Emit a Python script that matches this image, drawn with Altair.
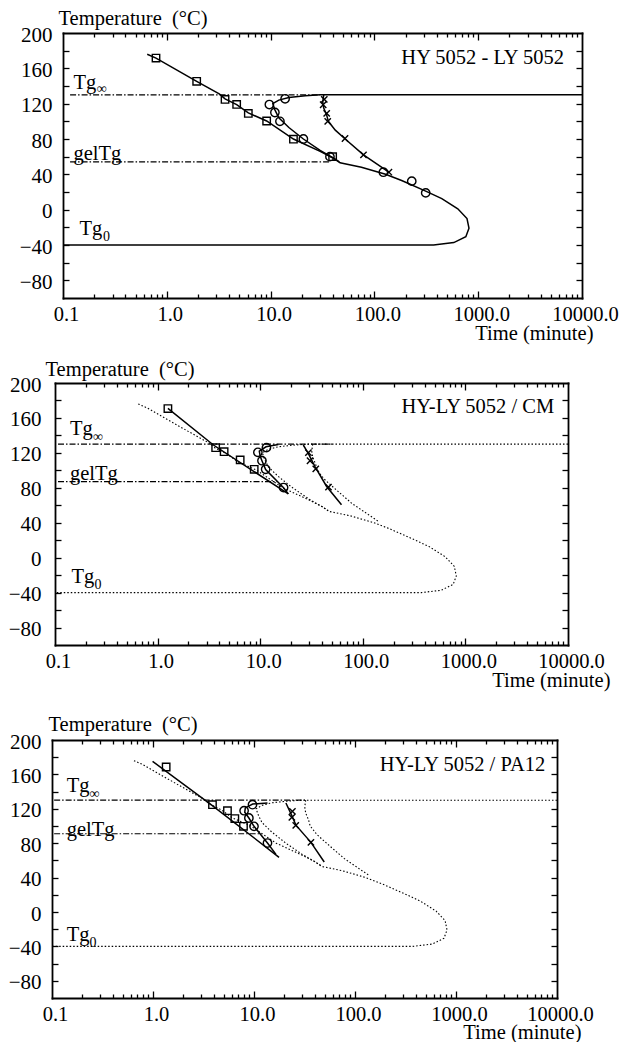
import altair as alt
import pandas as pd

FONT = "Liberation Serif, Times New Roman, serif"

# ---------------- Panel 1 : HY 5052 - LY 5052 ----------------
p1_main_t = [0.648, 0.787, 1.94, 3.2, 3.64, 4.71, 6.1, 9.16, 16.6, 30, 40, 46.7, 75, 128, 183, 312, 446, 636, 780, 815, 760, 582, 372, 0.1]
p1_main_T = [176, 171.6, 145.3, 131, 125.5, 119, 109.5, 100.4, 80, 66, 58.5, 53, 48, 40, 33, 21, 12.5, 1, -10, -21, -30.6, -37.3, -40, -40]
p1_circ_t = [10000, 30, 21.6, 15, 12, 10.5, 11, 12, 15, 20.7, 30, 40, 46]
p1_circ_T = [130, 130, 129, 127, 124, 120, 113, 104, 93, 80, 67, 58.5, 54]
p1_cross_t = [32.5, 31.8, 32.5, 34.7, 36, 42, 52.3, 78.5, 140]
p1_cross_T = [130, 122, 115, 107, 100, 90, 80, 62, 42]
p1_sq_t = [0.787, 1.94, 3.64, 4.71, 6.1, 9.16, 16.6, 39.6]
p1_sq_T = [171.6, 145.3, 124.8, 119.1, 109, 100.4, 79.8, 60]
p1_ci_t = [9.73, 13.8, 11.0, 12.3, 20.7, 37.3, 122, 229, 312]
p1_ci_T = [119, 125.5, 110, 100, 80, 60, 42.4, 32.3, 19]
p1_x_t = [32.9, 32.1, 34.7, 35.5, 52.1, 78.5, 138]
p1_x_T = [124.8, 118.8, 109, 100, 80.6, 62, 42.4]
p1_tginf = [0.117, 30]
p1_gel = [0.117, 37]
p1_gel_T = 54

# ---------------- Panel 2 : HY-LY 5052 / CM ----------------
p2_sqline_t = [1.26, 3.5, 18.8]
p2_sqline_T = [171, 129, 73]
p2_ciline_t = [15, 11.4, 9.8, 10, 10.4, 11.3, 16.9, 18.8]
p2_ciline_T = [129.5, 127, 122, 116, 111, 101, 80, 73]
p2_xline_t = [26.3, 29.4, 34.2, 44.4, 62]
p2_xline_T = [129, 119.4, 104.3, 81.5, 60.6]
p2_sq_t = [1.26, 3.68, 4.45, 6.38, 8.74]
p2_sq_T = [170.7, 125.9, 121.4, 111.9, 101.2]
p2_ci_t = [9.49, 11.5, 10.4, 11.3, 16.9]
p2_ci_T = [120.6, 126, 111, 101.2, 80.3]
p2_x_t = [29.5, 30.6, 34.8, 46.3]
p2_x_T = [120.2, 111, 101.6, 80.7]
p2_tginf = [0.107, 50]
p2_gel = [0.107, 14.6]
p2_gel_T = 87

# ---------------- Panel 3 : HY-LY 5052 / PA12 ----------------
p3_sqline_t = [0.99, 3.9, 17.7]
p3_sqline_T = [175.2, 123.5, 63.6]
p3_ciline_t = [13.6, 9.7, 8.2, 8.1, 8.9, 10, 13.6, 16.5]
p3_ciline_T = [126.7, 125.5, 121, 116, 109.3, 99.6, 80.2, 67]
p3_xline_t = [20.7, 23.5, 26, 36.6, 49.6]
p3_xline_T = [126.7, 113, 101, 81, 58.1]
p3_sq_t = [1.35, 3.88, 5.46, 6.46, 7.87]
p3_sq_T = [168.6, 124.8, 117.8, 108.6, 99.6]
p3_ci_t = [7.98, 9.66, 8.9, 10.0, 13.6]
p3_ci_T = [117.8, 124.8, 109.3, 99.6, 80.2]
p3_x_t = [24, 23.7, 25.9, 36.6]
p3_x_T = [117.1, 110.1, 100.8, 81]
p3_tginf = [0.105, 32]
p3_gel = [0.105, 11.4]
p3_gel_T = 91

TG_INF = 130

# label anchors (time, temperature) for the in-plot labels
titles = ["HY 5052 - LY 5052", "HY-LY 5052 / CM", "HY-LY 5052 / PA12"]
title_pos = [(6714, 171.9), (7330, 172.6), (7650, 171.3)]
lab_main = [
    [(0.126, 143.9, "Tg"), (0.126, 63, "gelTg"), (0.144, -22, "Tg")],
    [(0.14, 146.8, "Tg"), (0.14, 95.5, "gelTg"), (0.145, -22, "Tg")],
    [(0.14, 146.2, "Tg"), (0.14, 95.7, "gelTg"), (0.14, -27, "Tg")],
]
lab_sub = [
    [(0.212, 137, "∞"), (0.243, -31, "0")],
    [(0.235, 138.5, "∞"), (0.243, -31.7, "0")],
    [(0.235, 137.2, "∞"), (0.235, -36, "0")],
]

x_labels = [0.1, 1, 10, 100, 1000, 10000]
x_major = [1, 10, 100, 1000]
x_minor = [k * 10.0 ** d for d in range(-1, 4) for k in range(2, 10)]
y_labels = [-80, -40, 0, 40, 80, 120, 160, 200]
y_ticks = list(range(-80, 200, 20))

W = 532  # common group width; each panel's frame sits inside it


def curves(items):
    rows = []
    for name, ts, Ts in items:
        for i, (t, T) in enumerate(zip(ts, Ts)):
            rows.append({"curve": name, "t": t, "T": T, "order": i})
    return pd.DataFrame(rows)


def pts(ts, Ts):
    return pd.DataFrame({"t": ts, "T": Ts})


def make_panel(L, w, h, solid, dotted, dashdot, sq, ci, cr, idx, ypad, ytx, yty, xtx, xty):
    xs = alt.Scale(type="log", domain=[0.1, 10000], range=[L, L + w], nice=False)
    ys = alt.Scale(domain=[-100, 200], nice=False, zero=False)
    frame = dict(domain=True, domainColor="black", domainWidth=1.8, domainCap="square")

    def inner_x(orient, vals, size, dom=False):
        extra = frame if dom else dict(domain=False)
        return alt.Axis(orient=orient, offset=-h, values=vals, labels=False,
                        grid=False, ticks=True, tickSize=size, tickColor="black",
                        tickWidth=1.3, title=None, **extra)

    def inner_y(orient, off, dom=False):
        extra = frame if dom else dict(domain=False)
        return alt.Axis(orient=orient, offset=off, values=y_ticks, labels=False,
                        grid=False, ticks=True, tickSize=6, tickColor="black",
                        tickWidth=1.3, title=None, **extra)

    x_lab_axis = alt.Axis(orient="bottom", values=x_labels, format=".1f", ticks=False, tickSize=0,
                          grid=False, labelFont=FONT, labelFontSize=20.5,
                          labelColor="black", labelPadding=6, labelFlush=False, labelOffset=3,
                          title="Time (minute)", titleFont=FONT, titleFontSize=20.5,
                          titleFontWeight="normal", titleColor="black", titleAlign="right",
                          titleBaseline="middle", titleX=xtx, titleY=xty, **frame)
    y_lab_axis = alt.Axis(orient="left", offset=-L, values=y_labels, ticks=False, tickSize=0,
                          grid=False, labelFont=FONT, labelFontSize=21, labelColor="black",
                          labelPadding=ypad, labelOffset=2,
                          title="Temperature \u00a0(°C)", titleFont=FONT, titleFontSize=20.5,
                          titleFontWeight="normal", titleColor="black", titleAngle=0,
                          titleAlign="left", titleBaseline="middle", titleX=ytx, titleY=yty, **frame)

    X = lambda axis: alt.X("t:Q", scale=xs, axis=axis)
    Y = lambda axis: alt.Y("T:Q", scale=ys, axis=axis)

    layers = []
    layers.append(
        alt.Chart(solid).mark_line(color="black", strokeWidth=1.5).encode(
            x=X(x_lab_axis), y=Y(y_lab_axis), detail="curve:N", order="order:Q")
    )
    layers.append(
        alt.Chart(dashdot).mark_line(color="black", strokeWidth=1.2, strokeDash=[6, 2, 1.5, 2]).encode(
            x=X(inner_x("top", x_major, 7)), y=Y(inner_y("right", L - W)),
            detail="curve:N", order="order:Q")
    )
    if dotted is not None:
        layers.append(
            alt.Chart(dotted).mark_line(color="black", strokeWidth=1.1, strokeDash=[1.5, 2]).encode(
                x=X(None), y=Y(None), detail="curve:N", order="order:Q")
        )
    layers.append(
        alt.Chart(sq).mark_point(shape="square", filled=False, size=55, color="black",
                                 strokeWidth=1.4, opacity=1).encode(
            x=X(inner_x("bottom", x_major, 7, dom=True)), y=Y(inner_y("left", -(L + w), dom=True)))
    )
    layers.append(
        alt.Chart(ci).mark_point(shape="circle", filled=False, size=70, color="black",
                                 strokeWidth=1.4, opacity=1).encode(
            x=X(inner_x("top", x_minor, 4)), y=Y(None))
    )
    layers.append(
        alt.Chart(cr).mark_point(shape="M-1,-1L1,1M-1,1L1,-1", filled=False, size=40, color="black",
                                 strokeWidth=1.4, opacity=1).encode(
            x=X(inner_x("bottom", x_minor, 4)), y=Y(None))
    )
    lm = pd.DataFrame([{"t": a, "T": b, "txt": c} for a, b, c in lab_main[idx]])
    ls = pd.DataFrame([{"t": a, "T": b, "txt": c} for a, b, c in lab_sub[idx]])
    an = pd.DataFrame([{"t": title_pos[idx][0], "T": title_pos[idx][1], "txt": titles[idx]}])
    layers.append(
        alt.Chart(lm).mark_text(align="left", baseline="middle", font=FONT, fontSize=20.5, color="black").encode(
            x=X(None), y=Y(None), text="txt:N")
    )
    layers.append(
        alt.Chart(ls).mark_text(align="left", baseline="middle", font=FONT, fontSize=14, color="black").encode(
            x=X(None), y=Y(None), text="txt:N")
    )
    layers.append(
        alt.Chart(an).mark_text(align="right", baseline="middle", font=FONT, fontSize=20.5, color="black").encode(
            x=X(None), y=Y(None), text="txt:N")
    )
    return alt.layer(*layers).resolve_axis(x="independent", y="independent").properties(width=W, height=h)


model = [("main", p1_main_t, p1_main_T), ("circ", p1_circ_t, p1_circ_T), ("cross", p1_cross_t, p1_cross_T)]

panel1 = make_panel(
    13, 519, 265,
    curves(model), None,
    curves([("tginf", p1_tginf, [TG_INF, TG_INF]), ("gel", p1_gel, [p1_gel_T, p1_gel_T])]),
    pts(p1_sq_t, p1_sq_T), pts(p1_ci_t, p1_ci_T), pts(p1_x_t, p1_x_T),
    0, 11, -5, -15, 13 + 519 + 11, 35)

panel2 = make_panel(
    5, 513, 262,
    curves([("sq", p2_sqline_t, p2_sqline_T), ("ci", p2_ciline_t, p2_ciline_T), ("x", p2_xline_t, p2_xline_T)]),
    curves(model),
    curves([("tginf", p2_tginf, [TG_INF, TG_INF]), ("gel", p2_gel, [p2_gel_T, p2_gel_T])]),
    pts(p2_sq_t, p2_sq_T), pts(p2_ci_t, p2_ci_T), pts(p2_x_t, p2_x_T),
    1, 14, -10, -14, 5 + 513 + 42, 35)

panel3 = make_panel(
    2, 505, 258,
    curves([("sq", p3_sqline_t, p3_sqline_T), ("ci", p3_ciline_t, p3_ciline_T), ("x", p3_xline_t, p3_xline_T)]),
    curves(model),
    curves([("tginf", p3_tginf, [TG_INF, TG_INF]), ("gel", p3_gel, [p3_gel_T, p3_gel_T])]),
    pts(p3_sq_t, p3_sq_T), pts(p3_ci_t, p3_ci_T), pts(p3_x_t, p3_x_T),
    2, 11, -4, -16, 2 + 505 + 24, 34)

chart = alt.vconcat(
    panel1,
    alt.vconcat(panel2, panel3, spacing=23),
    spacing=15,
).properties(padding={"left": 0, "top": 0, "right": 0, "bottom": 0}).configure_view(
    stroke="transparent", strokeWidth=0
)

chart.save("out.html", embed_options={"renderer": "svg", "actions": False})
